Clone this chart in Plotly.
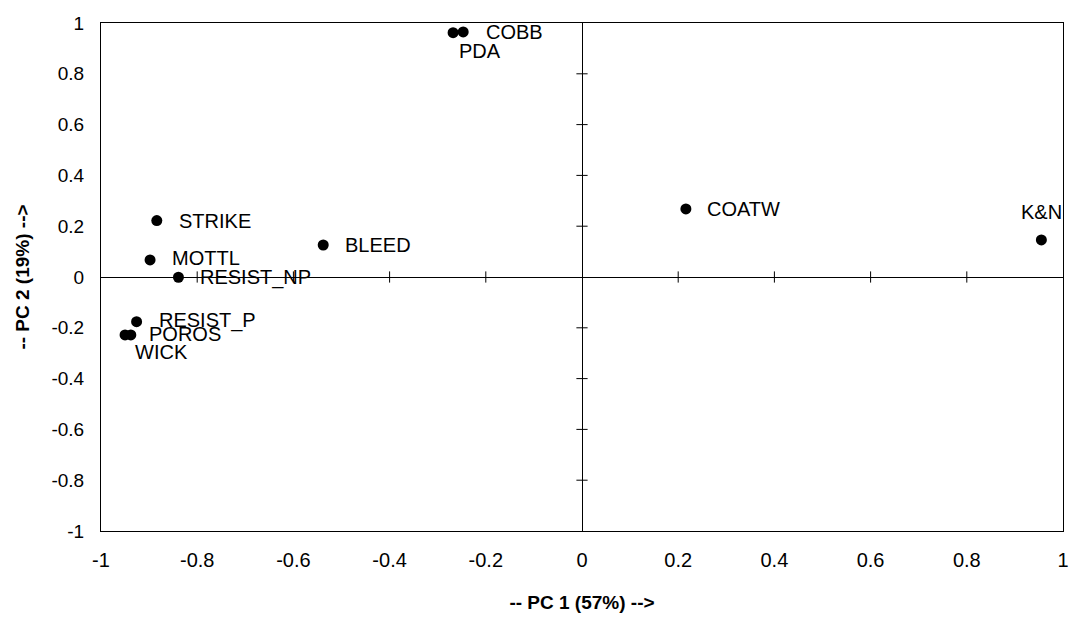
import plotly.graph_objects as go

# ---- data ----
names = ["COBB", "PDA", "STRIKE", "BLEED", "MOTTL", "RESIST_NP",
         "RESIST_P", "POROS", "WICK", "COATW", "K&N"]
pc1 = [-0.247, -0.268, -0.884, -0.538, -0.898, -0.839,
       -0.926, -0.938, -0.950, 0.216, 0.955]
pc2 = [0.965, 0.962, 0.222, 0.126, 0.067, -0.001,
       -0.176, -0.228, -0.228, 0.268, 0.146]

tick_vals = [-1, -0.8, -0.6, -0.4, -0.2, 0, 0.2, 0.4, 0.6, 0.8, 1]
tick_text = ["-1", "-0.8", "-0.6", "-0.4", "-0.2", "0", "0.2", "0.4", "0.6", "0.8", "1"]

x_title = "-- PC 1 (57%) -->"
y_title = "-- PC 2 (19%) -->"

# label placement (style): anchor and pixel shift per label
label_style = {
    "COBB": ("left", "middle", 21, 0),
    "PDA": ("left", "middle", 4, -18),
    "STRIKE": ("left", "middle", 20, 0),
    "BLEED": ("left", "middle", 20, 0),
    "MOTTL": ("left", "middle", 20, 2),
    "RESIST_NP": ("left", "middle", 20, 0),
    "RESIST_P": ("left", "middle", 20, 1),
    "POROS": ("left", "middle", 16, 1),
    "WICK": ("left", "middle", 8, -17),
    "COATW": ("left", "middle", 19, 0),
    "K&N": ("center", "middle", 0, 28),
}

FONT = "Arial, 'Liberation Sans', sans-serif"

fig = go.Figure()

# tick marks crossing the zero lines
inner_ticks = [v for v in tick_vals if v not in (-1, 0, 1)]
fig.add_trace(go.Scatter(
    x=inner_ticks, y=[0] * len(inner_ticks), mode="markers",
    marker=dict(symbol="line-ns-open", size=8, color="black",
                line=dict(color="black", width=1)),
    hoverinfo="skip", showlegend=False))
fig.add_trace(go.Scatter(
    x=[0] * len(inner_ticks), y=inner_ticks, mode="markers",
    marker=dict(symbol="line-ew-open", size=8, color="black",
                line=dict(color="black", width=1)),
    hoverinfo="skip", showlegend=False))

fig.add_trace(go.Scatter(
    x=pc1, y=pc2, mode="markers", text=names,
    marker=dict(color="black", size=11, line=dict(width=0)),
    showlegend=False))

for n, x, y in zip(names, pc1, pc2):
    xa, ya, dx, dy = label_style[n]
    fig.add_annotation(x=x, y=y, xref="x", yref="y", text=n, showarrow=False,
                       xanchor=xa, yanchor=ya, xshift=dx, yshift=dy,
                       font=dict(family=FONT, size=20, color="black"))

axis_common = dict(
    range=[-1, 1], tickvals=tick_vals, ticktext=tick_text,
    showline=True, mirror=True, linecolor="black", linewidth=1,
    zeroline=True, zerolinecolor="black", zerolinewidth=1,
    showgrid=False, ticks="", automargin=False,
)

fig.update_layout(
    width=1071, height=617,
    margin=dict(l=101, r=8, t=23, b=86),
    paper_bgcolor="white", plot_bgcolor="white",
    font=dict(family=FONT, color="black"),
    xaxis=dict(**axis_common, tickfont=dict(size=20), ticklabelstandoff=11,
               title=dict(text="<b>" + x_title + "</b>", font=dict(size=19), standoff=25)),
    yaxis=dict(**axis_common, tickfont=dict(size=19), ticklabelstandoff=12,
               title=dict(text="<b>" + y_title + "</b>", font=dict(size=19), standoff=16)),
    hovermode=False,
)

fig.write_html("out.html",
               config={"displayModeBar": False},
               post_script="document.body.style.margin='0';document.body.style.padding='0';")
